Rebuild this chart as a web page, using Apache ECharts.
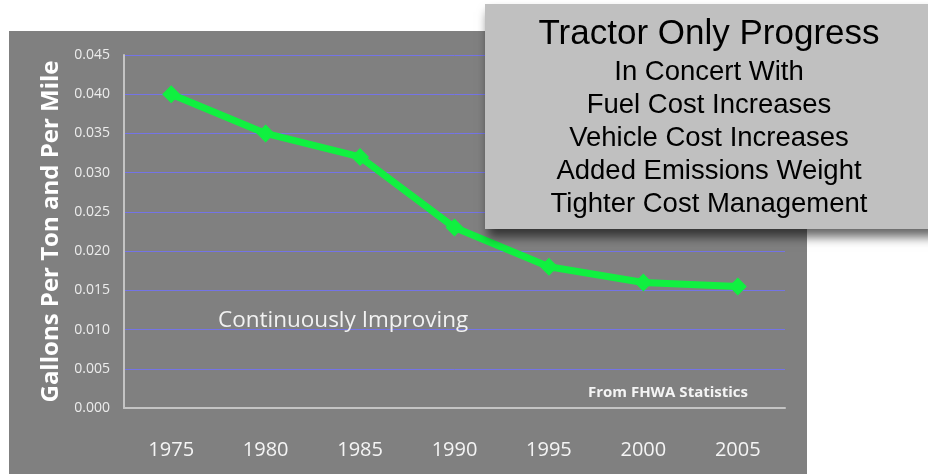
<!DOCTYPE html>
<html>
<head>
<meta charset="utf-8">
<script src="https://cdn.jsdelivr.net/npm/echarts@6/dist/echarts.min.js"></script>
<style>
  html, body { margin: 0; padding: 0; background: #ffffff; }
  #chart { width: 928px; height: 474px; }
</style>
</head>
<body>
<div id="chart"></div>
<script>
// Fuel use per ton-mile, tractor only
const years = ['1975', '1980', '1985', '1990', '1995', '2000', '2005'];
const gallonsPerTonMile = [0.040, 0.035, 0.032, 0.023, 0.018, 0.016, 0.0155];
const yTicks = { min: 0, max: 0.045, interval: 0.005 };
const boxTitle = 'Tractor Only Progress';
const boxLines = [
  'In Concert With',
  'Fuel Cost Increases',
  'Vehicle Cost Increases',
  'Added Emissions Weight',
  'Tighter Cost Management'
];

const chart = echarts.init(document.getElementById('chart'), null, { renderer: 'canvas' });

const labelFont = '"Open Sans", "Lato", sans-serif';
const boxFont = '"Liberation Sans", Arial, sans-serif';

// Callout box: shaded panel plus centred text lines
const callout = [
  {
    type: 'rect', z: 100, shape: { x: 485, y: 4, width: 450, height: 225 },
    style: { fill: '#c0c0c0', shadowColor: 'rgba(0,0,0,0.6)', shadowBlur: 10, shadowOffsetX: 3, shadowOffsetY: 8 }
  },
  {
    type: 'text', z: 101, x: 709, y: 34,
    style: { text: boxTitle, font: '35px ' + boxFont, fill: '#000', textAlign: 'center', textVerticalAlign: 'middle' }
  }
].concat(boxLines.map((t, i) => ({
  type: 'text', z: 101, x: 709, y: 72 + i * 33.2,
  style: { text: t, font: '27.5px ' + boxFont, fill: '#000', textAlign: 'center', textVerticalAlign: 'middle' }
})));

chart.setOption({
  animation: false,
  backgroundColor: '#ffffff',
  grid: { left: 124, right: 143, top: 55, bottom: 66 },
  xAxis: {
    type: 'category',
    data: years,
    boundaryGap: true,
    axisLine: { lineStyle: { color: '#c4c4c4', width: 2 } },
    axisTick: { show: false },
    axisLabel: { color: '#f4f4f4', fontSize: 20, fontFamily: labelFont, margin: 32 }
  },
  yAxis: {
    type: 'value',
    min: yTicks.min, max: yTicks.max, interval: yTicks.interval,
    name: 'Gallons Per Ton and Per Mile',
    nameLocation: 'middle',
    nameGap: 58,
    nameTextStyle: { color: '#ffffff', fontSize: 24, fontWeight: 'bold', fontFamily: labelFont },
    axisLine: { show: true, lineStyle: { color: '#c4c4c4', width: 2 } },
    axisTick: { show: false },
    axisLabel: { color: '#ececec', fontSize: 14, fontFamily: labelFont, margin: 14, formatter: v => v.toFixed(3) },
    splitLine: { show: true, lineStyle: { color: '#7474e6', width: 1 } }
  },
  graphic: [
    { type: 'rect', z: -10, shape: { x: 9, y: 31, width: 798, height: 443 }, style: { fill: '#808080' } },
    {
      type: 'text', z: 10, x: 218, y: 321,
      style: { text: 'Continuously Improving', font: '22.5px ' + labelFont, fill: '#f2f2f2', textVerticalAlign: 'middle' }
    },
    {
      type: 'text', z: 10, x: 748, y: 393,
      style: { text: 'From FHWA Statistics', font: 'bold 15px ' + labelFont, fill: '#f4f4f4', textAlign: 'right', textVerticalAlign: 'middle' }
    }
  ].concat(callout),
  series: [{
    type: 'line',
    data: gallonsPerTonMile,
    symbol: 'diamond',
    symbolSize: 18,
    lineStyle: { color: '#10f040', width: 7 },
    itemStyle: { color: '#10f040' },
    z: 5
  }]
});
</script>
</body>
</html>
